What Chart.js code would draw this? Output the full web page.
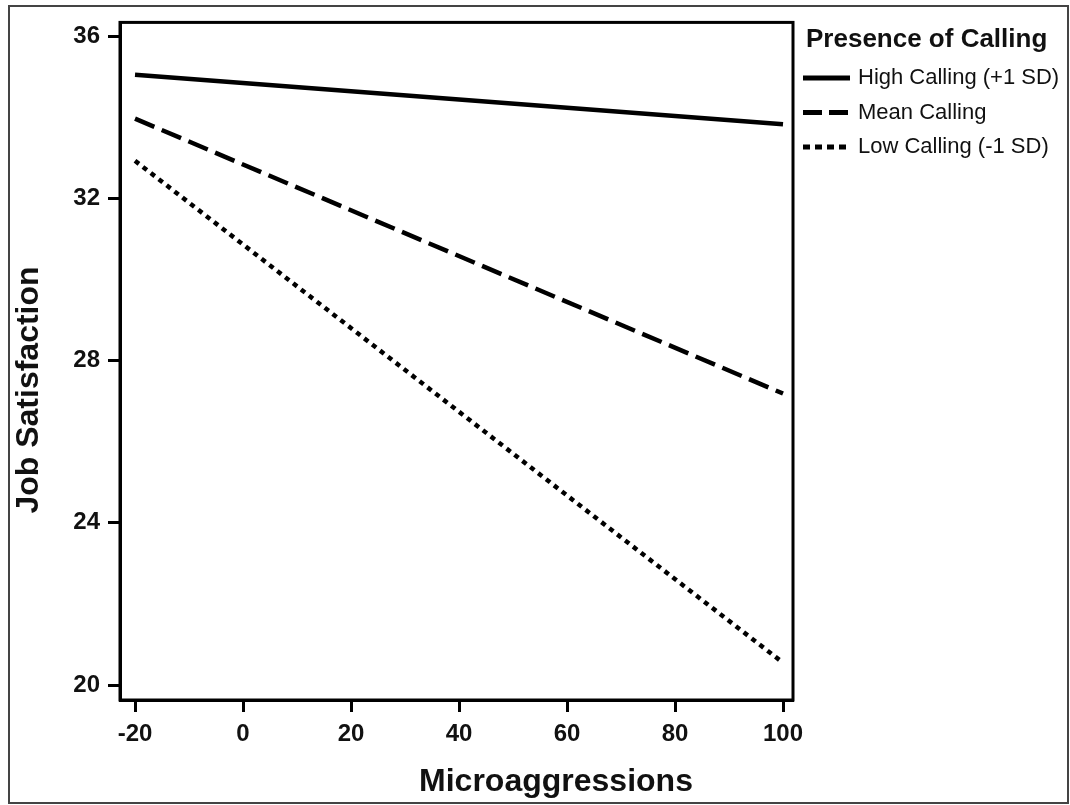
<!DOCTYPE html>
<html>
<head>
  <title>Job Satisfaction by Microaggressions</title>
  <script src="https://cdn.jsdelivr.net/npm/chart.js"></script>
  <style>
    body { margin: 0; background: #fff; }
  </style>
</head>
<body>
  <canvas id="callingChart" width="1070" height="805"></canvas>

  <script>
    // Values
    const microaggressions = [-20, 100];
    const highCalling = [35.05, 33.83];
    const meanCalling = [33.97, 27.19];
    const lowCalling = [32.93, 20.55];

    const xTicks = [-20, 0, 20, 40, 60, 80, 100];
    const yTicks = [20, 24, 28, 32, 36];

    const seriesLabels = ['High Calling (+1 SD)', 'Mean Calling', 'Low Calling (-1 SD)'];
    const legendTitle = 'Presence of Calling';
    const xTitle = 'Microaggressions';
    const yTitle = 'Job Satisfaction';

    const FONT = "'Liberation Sans', Arial, sans-serif";

    const toPoints = ys => microaggressions.map((x, i) => ({ x: x, y: ys[i] }));

    // frame, outer border, axis titles and legend
    const extras = {
      id: 'extras',
      afterDraw(chart) {
        const ctx = chart.ctx;
        const a = chart.chartArea;
        ctx.save();

        // outer border of the figure
        ctx.strokeStyle = '#444';
        ctx.lineWidth = 2;
        ctx.strokeRect(9, 6, 1059, 797);

        // box round the plot
        ctx.strokeStyle = '#000';
        ctx.lineWidth = 3;
        ctx.strokeRect(a.left, a.top, a.right - a.left, a.bottom - a.top);

        // axis titles
        ctx.fillStyle = '#111';
        ctx.font = 'bold 32px ' + FONT;
        ctx.textAlign = 'center';
        ctx.textBaseline = 'middle';
        ctx.fillText(xTitle, 556, 782);
        ctx.save();
        ctx.translate(29, 390);
        ctx.rotate(-Math.PI / 2);
        ctx.fillText(yTitle, 0, 0);
        ctx.restore();

        // legend
        ctx.textAlign = 'left';
        ctx.font = 'bold 26px ' + FONT;
        ctx.fillText(legendTitle, 806, 40);
        ctx.font = '22px ' + FONT;
        chart.data.datasets.forEach((ds, i) => {
          const y = 78 + i * 34.5;
          ctx.beginPath();
          ctx.setLineDash(ds.legendDash);
          ctx.lineWidth = 5;
          ctx.strokeStyle = '#000';
          ctx.moveTo(803, y);
          ctx.lineTo(850, y);
          ctx.stroke();
          ctx.setLineDash([]);
          ctx.fillText(ds.label, 858, y);
        });
        ctx.restore();
      }
    };

    const ctx = document.getElementById('callingChart').getContext('2d');
    new Chart(ctx, {
      type: 'line',
      data: {
        datasets: [{
          label: seriesLabels[0],
          data: toPoints(highCalling),
          borderColor: '#000',
          borderWidth: 4.5,
          borderDash: [],
          legendDash: []
        }, {
          label: seriesLabels[1],
          data: toPoints(meanCalling),
          borderColor: '#000',
          borderWidth: 4.5,
          borderDash: [21, 8],
          legendDash: [19, 7]
        }, {
          label: seriesLabels[2],
          data: toPoints(lowCalling),
          borderColor: '#000',
          borderWidth: 4.5,
          borderDash: [5, 5],
          legendDash: [7, 5]
        }]
      },
      options: {
        responsive: false,
        animation: false,
        events: [],
        elements: {
          point: { radius: 0 },
          line: { tension: 0, borderCapStyle: 'butt' }
        },
        layout: {
          padding: { top: 20, right: 277, left: 0, bottom: 0 }
        },
        plugins: {
          legend: { display: false },
          tooltip: { enabled: false }
        },
        scales: {
          x: {
            type: 'linear',
            min: -22.78,
            max: 101.85,
            afterBuildTicks: s => { s.ticks = xTicks.map(v => ({ value: v })); },
            afterFit: s => { s.height = 105; },
            grid: {
              drawOnChartArea: false,
              drawTicks: true,
              tickLength: 12,
              tickWidth: 3,
              tickColor: '#000'
            },
            border: { display: true, width: 3, color: '#000' },
            ticks: {
              color: '#111',
              padding: 8,
              maxRotation: 0,
              font: { family: FONT, size: 24, weight: 'bold' }
            }
          },
          y: {
            type: 'linear',
            min: 19.631,
            max: 36.344,
            afterBuildTicks: s => { s.ticks = yTicks.map(v => ({ value: v })); },
            afterFit: s => { s.width = 120; },
            grid: {
              drawOnChartArea: false,
              drawTicks: true,
              tickLength: 12,
              tickWidth: 3,
              tickColor: '#000'
            },
            border: { display: true, width: 3, color: '#000' },
            ticks: {
              color: '#111',
              padding: 8,
              font: { family: FONT, size: 24, weight: 'bold' }
            }
          }
        }
      },
      plugins: [extras]
    });
  </script>
</body>
</html>
